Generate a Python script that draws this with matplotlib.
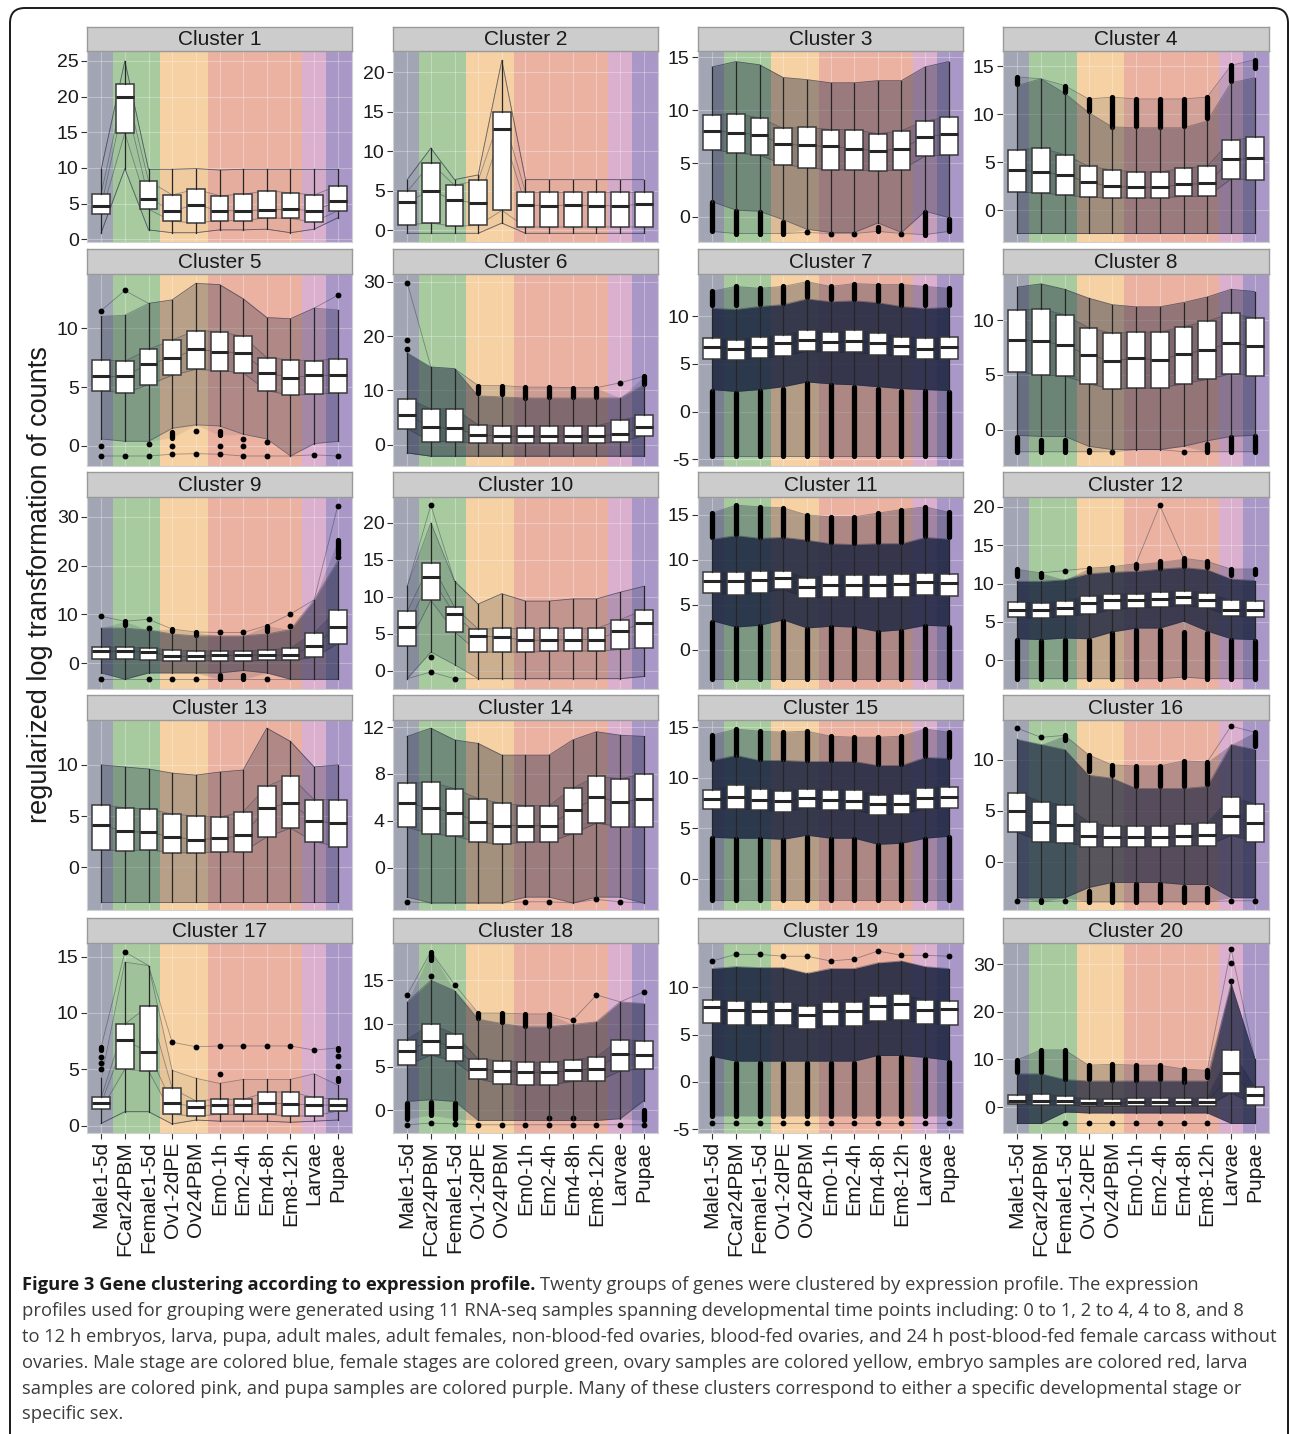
import numpy as np
import matplotlib.pyplot as plt
from matplotlib.patches import FancyBboxPatch

# sample names (x categories) and developmental stage of each
samples = ["Male1-5d", "FCar24PBM", "Female1-5d", "Ov1-2dPE", "Ov24PBM",
           "Em0-1h", "Em2-4h", "Em4-8h", "Em8-12h", "Larvae", "Pupae"]
stage = [0, 1, 1, 2, 2, 3, 3, 3, 3, 4, 5]
stage_colors = ["#a2a6b4", "#a7cb9f", "#f6d1a3", "#ebb2a2", "#dbafce", "#a997c7"]

clusters = ["Cluster %d" % (k + 1) for k in range(20)]

ylims = [(-0.4, 26.4), (-1.5, 22.7), (-2.4, 15.6), (-3.3, 16.6),
         (-1.7, 14.6), (-3.9, 31.4), (-5.7, 14.4), (-3.3, 14.2),
         (-5.3, 34.1), (-2.5, 23.5), (-4.4, 17.0), (-3.75, 21.3),
         (-4.2, 14.4), (-3.6, 12.6), (-3.1, 15.7), (-4.7, 13.9),
         (-0.65, 16.2), (-2.65, 19.3), (-5.4, 14.7), (-5.4, 34.4)]

yticks = [[0, 5, 10, 15, 20, 25], [0, 5, 10, 15, 20], [0, 5, 10, 15], [0, 5, 10, 15],
          [0, 5, 10], [0, 10, 20, 30], [-5, 0, 5, 10], [0, 5, 10],
          [0, 10, 20, 30], [0, 5, 10, 15, 20], [0, 5, 10, 15], [0, 5, 10, 15, 20],
          [0, 5, 10], [0, 4, 8, 12], [0, 5, 10, 15], [0, 5, 10],
          [0, 5, 10, 15], [0, 5, 10, 15], [-5, 0, 5, 10], [0, 10, 20, 30]]

q3 = [
    [6.4, 21.7, 8.2, 6.2, 7.0, 6.1, 6.3, 6.8, 6.5, 6.2, 7.5],
    [4.9, 8.5, 5.7, 6.3, 15.0, 4.8, 4.8, 4.8, 4.8, 4.8, 4.8],
    [9.6, 9.7, 9.3, 8.3, 8.4, 8.2, 8.2, 7.8, 8.1, 9.0, 9.4],
    [6.3, 6.5, 5.8, 4.6, 4.2, 4.0, 4.0, 4.4, 4.6, 7.3, 7.6],
    [7.3, 7.2, 8.2, 9.0, 9.8, 9.7, 9.3, 7.5, 7.3, 7.25, 7.4],
    [8.5, 6.6, 6.6, 3.7, 3.5, 3.5, 3.5, 3.5, 3.5, 4.5, 5.4],
    [7.7, 7.5, 7.8, 8.0, 8.55, 8.3, 8.5, 8.2, 7.85, 7.7, 7.8],
    [10.9, 11.0, 10.5, 9.3, 8.8, 8.9, 8.9, 9.4, 9.9, 10.6, 10.2],
    [3.3, 3.3, 3.1, 2.7, 2.5, 2.5, 2.5, 2.7, 3.1, 6.2, 11.0],
    [8.0, 14.6, 8.6, 5.6, 5.7, 5.7, 5.7, 5.7, 5.7, 6.9, 8.2],
    [8.6, 8.6, 8.7, 8.8, 8.0, 8.3, 8.3, 8.3, 8.4, 8.5, 8.4],
    [7.6, 7.5, 7.7, 8.4, 8.6, 8.7, 8.9, 9.1, 8.8, 7.8, 7.7],
    [6.1, 5.8, 5.7, 5.2, 5.0, 4.9, 5.4, 7.9, 8.9, 6.6, 6.6],
    [7.2, 7.3, 6.75, 5.9, 5.5, 5.3, 5.3, 6.8, 7.8, 7.6, 8.0],
    [8.8, 9.3, 8.9, 8.7, 8.9, 8.8, 8.8, 8.3, 8.4, 9.0, 9.1],
    [6.8, 5.9, 5.6, 3.9, 3.5, 3.5, 3.5, 3.7, 3.8, 6.4, 5.7],
    [2.5, 9.0, 10.65, 3.3, 2.2, 2.34, 2.34, 2.96, 3.0, 2.5, 2.34],
    [8.15, 9.9, 8.8, 5.9, 5.7, 5.5, 5.5, 5.8, 6.15, 8.15, 8.0],
    [8.7, 8.6, 8.5, 8.5, 8.0, 8.44, 8.44, 9.07, 9.3, 8.7, 8.6],
    [2.6, 2.8, 2.3, 1.8, 1.8, 1.9, 1.9, 1.9, 1.9, 12.0, 4.2],
]

med = [
    [4.6, 19.9, 5.7, 4.0, 4.8, 4.0, 4.0, 4.1, 4.2, 4.0, 5.3],
    [3.6, 5.0, 3.8, 3.4, 12.8, 3.2, 3.1, 3.2, 3.1, 3.1, 3.3],
    [8.1, 7.9, 7.7, 6.8, 6.7, 6.6, 6.4, 6.2, 6.4, 7.5, 7.8],
    [4.2, 4.0, 3.7, 2.9, 2.5, 2.4, 2.4, 2.7, 2.8, 5.3, 5.4],
    [5.9, 5.9, 7.0, 7.45, 8.2, 8.0, 7.9, 6.2, 5.8, 6.0, 6.0],
    [5.5, 3.2, 3.0, 1.85, 1.55, 1.55, 1.55, 1.7, 1.55, 2.0, 3.2],
    [6.8, 6.6, 6.8, 7.15, 7.5, 7.3, 7.4, 7.15, 6.9, 6.6, 6.8],
    [8.2, 8.1, 7.7, 6.8, 6.3, 6.5, 6.4, 6.9, 7.3, 7.9, 7.6],
    [2.5, 2.4, 2.3, 1.4, 1.4, 1.6, 1.6, 1.7, 1.6, 3.6, 7.4],
    [5.9, 12.7, 7.6, 4.7, 4.5, 4.1, 4.1, 4.2, 4.2, 5.4, 6.4],
    [7.6, 7.6, 7.7, 8.0, 7.0, 7.15, 7.15, 7.2, 7.3, 7.5, 7.4],
    [6.6, 6.5, 6.8, 7.5, 7.9, 7.8, 8.0, 8.2, 7.9, 6.6, 6.6],
    [4.1, 3.5, 3.4, 2.95, 2.7, 2.8, 3.1, 5.8, 6.3, 4.5, 4.3],
    [5.5, 5.1, 4.7, 3.9, 3.6, 3.6, 3.6, 4.9, 6.0, 5.6, 5.9],
    [7.9, 8.1, 7.8, 7.7, 8.0, 7.8, 7.7, 7.35, 7.35, 8.0, 8.1],
    [5.0, 3.9, 3.6, 2.5, 2.4, 2.4, 2.4, 2.5, 2.6, 4.5, 3.8],
    [1.98, 7.6, 6.5, 1.98, 1.7, 1.83, 1.83, 2.04, 1.9, 1.83, 1.83],
    [6.85, 8.0, 7.3, 4.8, 4.5, 4.35, 4.35, 4.6, 4.8, 6.5, 6.35],
    [7.9, 7.57, 7.46, 7.57, 7.05, 7.46, 7.5, 8.0, 8.27, 7.57, 7.74],
    [1.4, 1.4, 1.2, 0.85, 0.85, 1.06, 1.06, 1.06, 1.06, 7.2, 2.5],
]

q1 = [
    [3.5, 14.9, 4.2, 2.5, 2.3, 2.6, 2.6, 3.0, 2.9, 2.4, 4.0],
    [0.7, 0.9, 0.5, 0.6, 2.5, 0.4, 0.4, 0.4, 0.4, 0.4, 0.4],
    [6.3, 6.0, 5.8, 4.9, 4.6, 4.4, 4.4, 4.3, 4.4, 5.7, 5.8],
    [1.9, 1.8, 1.6, 1.35, 1.3, 1.3, 1.3, 1.45, 1.45, 3.25, 3.2],
    [4.7, 4.5, 5.2, 6.0, 6.5, 6.4, 6.2, 4.7, 4.3, 4.4, 4.5],
    [2.95, 0.6, 0.6, 0.3, 0.3, 0.3, 0.3, 0.3, 0.3, 0.5, 1.7],
    [5.5, 5.4, 5.6, 5.8, 6.3, 6.2, 6.2, 5.9, 5.8, 5.5, 5.5],
    [5.3, 5.0, 4.9, 4.2, 3.7, 3.8, 3.8, 4.2, 4.6, 5.1, 4.9],
    [0.8, 0.8, 0.7, 0.5, 0.5, 0.5, 0.5, 0.55, 0.55, 1.2, 4.0],
    [3.3, 9.5, 5.25, 2.5, 2.5, 2.5, 2.6, 2.7, 2.6, 2.85, 3.1],
    [6.3, 6.1, 6.3, 6.7, 5.7, 5.9, 5.9, 5.7, 5.9, 6.1, 6.0],
    [5.6, 5.45, 5.75, 6.0, 6.6, 6.8, 6.9, 7.15, 6.8, 5.75, 5.6],
    [1.7, 1.6, 1.7, 1.4, 1.4, 1.5, 1.5, 2.95, 3.8, 2.5, 2.0],
    [3.45, 2.9, 2.7, 2.2, 2.0, 2.2, 2.2, 2.9, 3.8, 3.5, 3.45],
    [6.9, 6.9, 6.8, 6.6, 7.0, 6.8, 6.8, 6.3, 6.4, 6.9, 7.0],
    [2.9, 2.0, 1.9, 1.5, 1.5, 1.5, 1.5, 1.6, 1.6, 2.6, 2.0],
    [1.45, 5.0, 4.85, 1.0, 0.86, 1.0, 1.0, 1.0, 0.86, 0.86, 1.3],
    [5.2, 6.35, 5.65, 3.6, 3.0, 2.9, 2.9, 3.3, 3.3, 4.5, 4.8],
    [6.28, 6.0, 6.0, 6.0, 5.65, 5.9, 5.9, 6.5, 6.6, 6.17, 6.07],
    [0.7, 0.5, 0.5, 0.2, 0.2, 0.2, 0.2, 0.2, 0.2, 3.0, 0.5],
]

whi = [
    [9.8, 25.0, 9.8, 9.8, 9.9, 9.7, 9.8, 9.8, 9.8, 9.8, 9.8],
    [6.4, 10.4, 6.4, 7.0, 21.5, 6.4, 6.4, 6.4, 6.4, 6.4, 6.4],
    [14.1, 14.6, 14.3, 13.1, 12.9, 12.6, 12.6, 12.8, 12.8, 14.1, 14.6],
    [13.0, 13.7, 12.2, 10.2, 8.7, 8.6, 8.6, 8.6, 9.3, 13.3, 13.8],
    [11.0, 11.1, 12.1, 12.4, 13.8, 13.7, 12.5, 10.9, 10.8, 11.7, 11.55],
    [16.9, 14.3, 14.0, 9.0, 8.8, 8.6, 8.6, 8.6, 8.6, 8.6, 11.0],
    [10.8, 10.7, 11.0, 11.2, 11.8, 11.5, 11.6, 11.4, 11.0, 10.8, 10.9],
    [13.0, 13.3, 12.8, 12.0, 11.4, 11.2, 11.2, 11.6, 12.1, 12.8, 12.6],
    [7.2, 7.2, 6.8, 6.0, 5.6, 5.6, 5.6, 6.0, 6.9, 13.0, 21.0],
    [11.4, 20.0, 12.1, 9.0, 10.4, 9.4, 9.4, 9.7, 9.7, 10.6, 11.4],
    [12.3, 12.7, 12.4, 12.5, 12.2, 11.8, 11.7, 11.8, 11.8, 12.5, 12.3],
    [10.3, 10.3, 10.5, 11.3, 11.5, 11.6, 11.9, 12.1, 11.8, 10.6, 10.4],
    [10.0, 9.8, 9.6, 9.2, 9.0, 9.3, 9.5, 13.6, 12.3, 9.8, 10.0],
    [11.2, 11.9, 10.9, 10.6, 9.6, 9.6, 9.6, 10.9, 11.6, 11.3, 11.2],
    [11.7, 12.2, 11.7, 11.7, 11.6, 11.6, 11.6, 11.2, 11.2, 12.0, 11.9],
    [12.0, 11.5, 11.0, 8.5, 8.2, 7.2, 7.2, 7.2, 7.4, 11.5, 11.0],
    [4.2, 14.5, 14.2, 4.9, 4.2, 3.75, 4.1, 4.1, 4.1, 4.6, 3.6],
    [12.5, 15.0, 13.8, 10.5, 10.0, 9.6, 9.6, 9.9, 10.2, 12.5, 12.3],
    [12.0, 12.2, 12.1, 12.1, 11.5, 12.0, 12.0, 12.6, 12.8, 12.2, 12.0],
    [7.0, 7.0, 5.8, 5.5, 5.5, 5.5, 5.5, 5.5, 5.5, 26.0, 10.2],
]

wlo = [
    [0.9, 9.9, 1.3, 0.9, 0.9, 1.3, 1.3, 1.4, 0.9, 1.4, 3.0],
    [-0.4, -0.4, -0.4, -0.4, 0.9, -0.4, -0.4, -0.4, -0.4, -0.4, -0.4],
    [1.4, 0.6, 0.5, -0.3, -1.2, -1.5, -1.5, -0.6, -1.5, 0.5, -0.1],
    [-2.4, -2.4, -2.4, -2.4, -2.4, -2.4, -2.4, -2.4, -2.4, -2.4, -2.4],
    [0.6, 0.4, 0.4, 1.5, 1.8, 1.7, 1.0, 0.6, -0.85, 0.2, 0.4],
    [-1.5, -2.1, -2.1, -2.1, -2.1, -2.1, -2.1, -2.1, -2.1, -2.1, -2.1],
    [2.3, 2.1, 2.3, 2.6, 3.1, 2.9, 2.8, 2.6, 2.4, 2.3, 2.2],
    [-0.5, -0.6, -0.6, -1.5, -1.8, -1.8, -1.8, -1.5, -1.0, -0.6, -0.5],
    [-2.0, -3.3, -2.0, -2.0, -2.0, -2.0, -1.5, -2.0, -3.3, -3.3, -3.3],
    [-1.1, 2.5, 0.8, -1.1, -1.1, -1.1, -1.1, -1.1, -1.1, -1.1, -0.8],
    [3.2, 2.5, 2.7, 3.3, 2.4, 2.6, 2.5, 2.0, 2.2, 2.7, 2.6],
    [2.8, 2.7, 2.9, 2.8, 3.7, 4.2, 4.2, 5.1, 3.8, 2.8, 2.7],
    [-3.4, -3.4, -3.4, -3.4, -3.4, -3.4, -3.4, -3.4, -3.4, -3.4, -3.4],
    [-2.5, -3.0, -3.0, -3.0, -3.0, -2.5, -2.5, -3.0, -2.5, -2.5, -3.0],
    [4.1, 4.0, 4.0, 3.9, 4.3, 4.0, 4.0, 3.4, 3.5, 4.0, 4.2],
    [-3.5, -3.5, -3.5, -2.5, -2.0, -2.0, -2.0, -2.2, -2.2, -3.5, -3.5],
    [0.2, 1.24, 1.24, 0.15, 0.5, 0.4, 0.4, 0.4, 0.3, 0.4, 0.5],
    [1.0, 1.2, 1.0, -1.2, -1.2, -1.2, -1.2, -1.2, -1.2, -1.0, 1.1],
    [2.7, 2.2, 2.2, 2.2, 2.2, 2.2, 2.2, 2.8, 2.8, 2.6, 2.3],
    [-3.4, -3.4, -1.0, -1.2, -1.2, -1.2, -1.2, -1.2, -1.2, -3.4, -3.4],
]

# outliers: (sample, low, high) -> a run of stacked points, single point when low == high
outliers = [
    [],
    [],
    [(0, -1.4, 1.4), (1, -1.6, 0.5), (2, -1.6, 0.4), (3, -1.6, -0.5), (4, -1.5, -1.5),
     (5, -1.6, -1.6), (6, -1.6, -1.6), (7, -1.4, -1.0), (8, -1.6, -1.6), (9, -1.7, 0.4),
     (10, -1.4, -0.2)],
    [(0, 13.2, 13.9), (2, 12.3, 13.0), (3, 10.3, 11.6), (4, 8.7, 11.8), (5, 8.8, 11.6),
     (6, 8.7, 11.6), (7, 8.8, 11.6), (8, 9.6, 11.8), (9, 13.5, 15.1), (10, 14.8, 15.7)],
    [(0, 11.5, 11.5), (0, 0.0, 0.0), (0, -0.85, -0.85), (1, 13.2, 13.2), (1, -0.85, -0.85),
     (2, 0.2, 0.2), (2, -0.85, -0.85), (3, 0.7, 1.2), (3, 0.0, 0.0), (3, -0.7, -0.7),
     (4, 1.3, 1.3), (4, -0.65, -0.65), (5, 0.9, 1.3), (5, 0.0, 0.0), (5, -0.7, -0.7),
     (6, 0.6, 0.6), (6, 0.0, 0.0), (6, -0.85, -0.85), (7, 0.3, 0.3), (7, -0.85, -0.85),
     (9, -0.75, -0.75), (10, 12.8, 12.8), (10, -0.85, -0.85)],
    [(0, 29.8, 29.8), (0, 19.2, 19.2), (0, 17.7, 17.7), (3, 9.5, 10.9), (4, 9.3, 10.9),
     (5, 8.6, 10.6), (6, 8.8, 10.6), (7, 8.8, 10.5), (8, 8.8, 10.5), (9, 11.4, 11.4),
     (10, 11.2, 12.6)],
    [(0, 11.2, 12.6), (1, 11.2, 13.1), (2, 11.3, 12.9), (3, 11.4, 13.1), (4, 12.0, 13.6),
     (5, 11.8, 13.1), (6, 11.8, 13.4), (7, 11.6, 13.3), (8, 11.2, 13.3), (9, 11.2, 13.1),
     (10, 11.2, 12.9),
     (0, -4.7, 2.1), (1, -4.7, 1.9), (2, -4.7, 2.1), (3, -4.7, 2.4), (4, -4.7, 3.0),
     (5, -4.7, 2.8), (6, -4.7, 2.6), (7, -4.7, 2.4), (8, -4.7, 2.2), (9, -4.7, 2.1),
     (10, -4.7, 2.0)],
    [(0, -2.0, -0.7), (1, -2.0, -0.9), (2, -2.0, -0.9), (3, -2.0, -1.8), (4, -2.0, -2.0),
     (7, -2.0, -2.0), (8, -2.0, -1.3), (9, -2.0, -0.7), (10, -2.0, -0.6)],
    [(0, 9.6, 9.6), (0, -3.3, -3.3), (1, 7.9, 8.6), (2, 7.3, 7.3), (2, 9.0, 9.0),
     (2, -3.3, -3.3), (3, 6.5, 7.0), (3, -3.3, -3.3), (4, 5.8, 6.4), (4, -3.3, -3.3),
     (5, 6.3, 6.3), (5, -3.3, -2.4), (6, 6.3, 6.3), (6, -3.3, -2.4), (7, 6.5, 7.7),
     (7, -3.3, -3.3), (8, 7.7, 7.7), (8, 10.1, 10.1), (10, 21.7, 21.7), (10, 22.5, 25.3),
     (10, 32.3, 32.3)],
    [(1, 22.4, 22.4), (1, 1.8, 1.8), (1, -0.2, -0.2), (2, -1.1, -1.1)],
    [(0, 12.5, 15.2), (1, 12.9, 16.1), (2, 12.5, 15.9), (3, 12.6, 15.8), (4, 12.3, 15.0),
     (5, 12.0, 14.8), (6, 11.9, 14.8), (7, 12.0, 15.2), (8, 12.0, 15.6), (9, 12.6, 15.9),
     (10, 12.5, 15.3),
     (0, -3.3, 3.1), (1, -3.3, 2.4), (2, -3.3, 2.6), (3, -3.3, 3.2), (4, -3.3, 2.3),
     (5, -3.3, 2.5), (6, -3.3, 2.4), (7, -3.3, 1.9), (8, -3.3, 2.1), (9, -3.3, 2.6),
     (10, -3.3, 2.5)],
    [(0, 11.0, 11.85), (1, 10.8, 11.4), (2, 11.7, 11.7), (3, 11.5, 12.0), (4, 11.8, 12.2),
     (5, 12.1, 12.6), (6, 12.1, 12.9), (6, 20.2, 20.2), (7, 12.3, 13.3), (8, 12.2, 12.9),
     (9, 11.1, 11.9), (10, 11.2, 11.9),
     (0, -2.4, 2.6), (1, -2.4, 2.5), (2, -2.4, 2.7), (3, -2.4, 2.6), (4, -2.4, 3.5),
     (5, -2.4, 4.0), (6, -2.4, 4.0), (7, -2.2, 3.7), (8, -2.4, 3.5), (9, -2.4, 2.6),
     (10, -2.4, 2.5)],
    [],
    [(0, -2.9, -2.9), (5, -2.9, -2.9), (6, -2.9, -2.9), (8, -2.7, -2.7), (9, -2.9, -2.9)],
    [(0, 11.8, 14.2), (1, 12.2, 14.8), (2, 11.8, 14.6), (3, 11.8, 14.5), (4, 11.7, 14.6),
     (5, 11.7, 14.1), (6, 11.7, 14.0), (7, 11.3, 14.0), (8, 11.3, 14.1), (9, 12.1, 14.8),
     (10, 12.0, 14.5),
     (0, -2.1, 4.0), (1, -2.1, 3.9), (2, -2.1, 3.9), (3, -2.1, 3.8), (4, -2.1, 4.1),
     (5, -2.1, 3.9), (6, -2.1, 3.9), (7, -2.1, 3.3), (8, -2.1, 3.4), (9, -2.1, 3.9),
     (10, -2.1, 4.1)],
    [(0, 13.1, 13.1), (0, -3.8, -3.8), (1, 12.2, 12.2), (1, -3.9, -3.7), (2, 11.9, 12.4),
     (2, -3.8, -3.8), (3, 8.9, 10.5), (3, -3.9, -2.8), (4, 8.5, 9.5), (4, -3.9, -2.2),
     (5, 7.4, 9.4), (5, -3.9, -2.2), (6, 7.4, 9.4), (6, -3.9, -2.2), (7, 7.4, 9.9),
     (7, -3.9, -2.4), (8, 7.6, 9.8), (8, -3.9, -2.5), (9, 13.3, 13.3), (9, -3.8, -3.8),
     (10, 11.4, 12.7), (10, -3.8, -3.8)],
    [(0, 6.7, 7.0), (0, 6.1, 6.1), (0, 5.6, 5.6), (0, 5.0, 5.0), (1, 15.4, 15.4),
     (3, 7.4, 7.4), (4, 7.0, 7.0), (5, 7.07, 7.07), (5, 4.55, 4.55), (6, 7.07, 7.07),
     (7, 7.07, 7.07), (8, 7.07, 7.07), (9, 6.7, 6.7), (10, 6.7, 6.9), (10, 6.2, 6.2),
     (10, 5.3, 5.3), (10, 4.0, 4.2)],
    [(0, 13.3, 13.3), (0, -1.0, 0.8), (0, -1.7, -1.7), (1, 17.3, 18.3), (1, 15.5, 15.5),
     (1, -0.6, 0.9), (1, -1.5, -1.5), (2, 14.5, 14.5), (2, -1.0, 0.8), (2, -1.6, -1.6),
     (3, 10.6, 11.2), (3, -1.7, -1.7), (4, 10.2, 11.2), (4, -1.7, -1.7), (5, 9.7, 11.1),
     (5, -1.7, -1.7), (6, 9.7, 11.1), (6, -0.9, -0.9), (6, -1.7, -1.7), (7, 10.4, 10.4),
     (7, -0.9, -0.9), (7, -1.7, -1.7), (8, 13.3, 13.3), (8, -1.7, -1.7), (9, -1.7, -1.7),
     (10, 13.65, 13.65), (10, -1.15, 0.0), (10, -1.7, -1.7)],
    [(0, 12.8, 12.8), (1, 13.5, 13.5), (2, 13.5, 13.5), (3, 13.3, 13.3), (4, 13.3, 13.3),
     (5, 12.8, 12.8), (6, 13.0, 13.0), (7, 13.85, 13.85), (8, 13.4, 13.4), (9, 13.4, 13.4),
     (10, 13.3, 13.3),
     (0, -3.6, 2.5), (1, -3.6, 2.0), (2, -3.6, 2.0), (3, -3.6, 2.0), (4, -3.6, 2.0),
     (5, -3.6, 2.0), (6, -3.6, 2.0), (7, -3.6, 2.6), (8, -3.6, 2.6), (9, -3.6, 2.4),
     (10, -3.6, 2.1),
     (0, -4.3, -4.3), (1, -4.3, -4.3), (2, -4.3, -4.3), (3, -4.3, -4.3), (4, -4.3, -4.3),
     (5, -4.3, -4.3), (6, -4.3, -4.3), (7, -4.3, -4.3), (8, -4.3, -4.3), (9, -4.3, -4.3),
     (10, -4.3, -4.3)],
    [(0, 7.4, 9.9), (1, 7.4, 12.0), (2, 6.0, 12.0), (2, -3.4, -3.4), (3, 6.0, 8.8),
     (3, -3.4, -3.4), (4, 5.6, 9.0), (4, -3.4, -3.4), (5, 5.6, 8.8), (5, -3.4, -3.4),
     (6, 6.0, 8.8), (6, -3.4, -3.4), (7, 5.2, 8.0), (7, -3.4, -3.4), (8, 6.3, 7.7),
     (8, -3.4, -3.4), (9, 26.5, 26.5), (9, 30.3, 30.3), (9, 33.2, 33.2)],
]

# opacity of the gene-profile line mass per panel (style only):
# band = between whisker ends, halo = out to the outlier runs
band_alpha = [0.03, 0.03, 0.3, 0.3, 0.22, 0.42, 0.82, 0.32, 0.45, 0.15,
              0.82, 0.78, 0.22, 0.3, 0.82, 0.62, 0.05, 0.42, 0.82, 0.68]
halo_alpha = [0.0, 0.0, 0.12, 0.12, 0.08, 0.15, 0.3, 0.15, 0.15, 0.05,
              0.3, 0.25, 0.08, 0.1, 0.3, 0.25, 0.0, 0.15, 0.3, 0.25]

W, H = 1290, 1434
navy = "#1b2440"
col_px = [(87, 352), (393, 658), (698, 963), (1003, 1269)]
row_px = [(27, 51, 242), (249, 274, 466), (472, 497, 689), (695, 720, 910), (918, 943, 1133)]

plt.rcParams["font.family"] = ["Liberation Sans", "DejaVu Sans"]
fig = plt.figure(figsize=(W / 100, H / 100), dpi=100)

x = np.arange(len(samples))

for k in range(20):
    r, c = divmod(k, 4)
    l, rr = col_px[c]
    st, pt, pb = row_px[r]
    ax = fig.add_axes([l / W, 1 - pb / H, (rr - l) / W, (pb - pt) / H])
    sax = fig.add_axes([l / W, 1 - pt / H, (rr - l) / W, (pt - st) / H])

    # strip
    sax.set_facecolor("#cccccc")
    sax.set_xticks([])
    sax.set_yticks([])
    for s in sax.spines.values():
        s.set_color("#9a9a9a")
        s.set_linewidth(1.0)
    sax.text(0.5, 0.47, clusters[k], ha="center", va="center", fontsize=15,
             color="#1a1a1a", transform=sax.transAxes)

    ax.set_xlim(-0.6, len(samples) - 0.4)
    ax.set_ylim(*ylims[k])

    # stage bands
    for i, sg in enumerate(stage):
        a = -0.6 if i == 0 else i - 0.5
        b = len(samples) - 0.4 if i == len(samples) - 1 else i + 0.5
        ax.axvspan(a, b, color=stage_colors[sg], lw=0, zorder=0)
    for yt in yticks[k]:
        ax.axhline(yt, color="white", lw=0.8, alpha=0.3, zorder=0.5)
    for i in x:
        ax.axvline(i, color="white", lw=0.8, alpha=0.3, zorder=0.5)

    lo = np.array(wlo[k], float)
    hi = np.array(whi[k], float)
    run_lo, run_hi = lo.copy(), hi.copy()      # extent of stacked outlier runs
    env_lo, env_hi = lo.copy(), hi.copy()      # extent incl. single outliers
    for (i, a, b) in outliers[k]:
        env_lo[i] = min(env_lo[i], a)
        env_hi[i] = max(env_hi[i], b)
        if b > a:
            run_lo[i] = min(run_lo[i], a)
            run_hi[i] = max(run_hi[i], b)

    ba = band_alpha[k]
    ax.fill_between(x, run_lo, run_hi, color=navy, alpha=halo_alpha[k], lw=0, zorder=1)
    ax.fill_between(x, lo, hi, color=navy, alpha=ba, lw=0, zorder=1.1)
    ax.fill_between(x, q1[k], q3[k], color=navy, alpha=0.5 * ba, lw=0, zorder=1.2)
    for prof in (env_lo, lo, q1[k], med[k], q3[k], hi, env_hi):
        ax.plot(x, prof, color=navy, lw=0.6, alpha=0.4, zorder=1.5)

    # outlier points
    for (i, a, b) in outliers[k]:
        if b > a:
            lc = ax.vlines(i, a, b, color="black", lw=3.8, zorder=2)
            lc.set_capstyle("round")
        else:
            ax.plot(i, a, "o", color="black", ms=4.2, mew=0, zorder=2)

    stats = [dict(med=med[k][i], q1=q1[k][i], q3=q3[k][i],
                  whislo=wlo[k][i], whishi=whi[k][i], fliers=[]) for i in x]
    bp = ax.bxp(stats, positions=x, widths=0.75, showcaps=False, showfliers=False,
                patch_artist=True, manage_ticks=False,
                boxprops=dict(facecolor="white", edgecolor="#3a3a3a", lw=1.1),
                medianprops=dict(color="#262626", lw=2.2),
                whiskerprops=dict(color="#262626", lw=0.9))
    for part in bp.values():
        for art in part:
            art.set_zorder(3)

    ax.set_yticks(yticks[k])
    ax.set_yticklabels([str(t) for t in yticks[k]])
    ax.tick_params(axis="y", length=4, width=0.8, color="#333333", labelsize=14,
                   pad=2, labelcolor="#1a1a1a")
    if r == 4:
        ax.set_xticks(x)
        ax.set_xticklabels(samples, rotation=90, fontsize=15, color="#1a1a1a")
        ax.tick_params(axis="x", length=4, width=0.8, color="#333333", pad=2)
    else:
        ax.set_xticks([])
    for s in ax.spines.values():
        s.set_color("#d0d0d0")
        s.set_linewidth(0.8)

fig.text(40 / W, 1 - 585 / H, "regularized log transformation of counts", rotation=90,
         ha="center", va="center", fontsize=19.5, color="#1a1a1a")

# caption
cap_font = ["Open Sans", "DejaVu Sans"]
cap_lines = [
    "profiles used for grouping were generated using 11 RNA-seq samples spanning developmental time points including: 0 to 1, 2 to 4, 4 to 8, and 8",
    "to 12 h embryos, larva, pupa, adult males, adult females, non-blood-fed ovaries, blood-fed ovaries, and 24 h post-blood-fed female carcass without",
    "ovaries. Male stage are colored blue, female stages are colored green, ovary samples are colored yellow, embryo samples are colored red, larva",
    "samples are colored pink, and pupa samples are colored purple. Many of these clusters correspond to either a specific developmental stage or",
    "specific sex.",
]
cap_y = [1311, 1337, 1363, 1389, 1414]
fs_cap = 13.2
t_bold = fig.text(22 / W, 1 - 1285 / H, "Figure 3 Gene clustering according to expression profile.",
                  family=cap_font, fontweight="bold", fontsize=fs_cap, color="#1a1a1a",
                  ha="left", va="center")
fig.canvas.draw()
bb = t_bold.get_window_extent()
fig.text((bb.x1 + 5) / W, 1 - 1285 / H,
         "Twenty groups of genes were clustered by expression profile. The expression",
         family=cap_font, fontsize=fs_cap, color="#3c3c3c", ha="left", va="center")
for line, yy in zip(cap_lines, cap_y):
    fig.text(22 / W, 1 - yy / H, line, family=cap_font, fontsize=fs_cap, color="#3c3c3c",
             ha="left", va="center")

# rounded frame
frame = FancyBboxPatch((10 / 100, -0.5), (1288 - 10) / 100, (H - 8) / 100 + 0.5,
                       boxstyle="round,pad=0,rounding_size=0.15",
                       transform=fig.dpi_scale_trans, fill=False, ec="#1a1a1a", lw=1.4,
                       clip_on=False)
fig.patches.append(frame)

fig.savefig("out.png", dpi=100)
